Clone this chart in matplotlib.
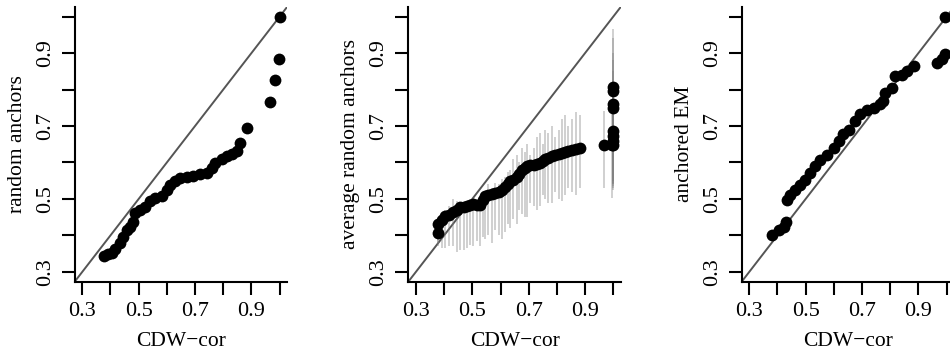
import matplotlib
matplotlib.use("Agg")
import matplotlib.pyplot as plt

plt.rcParams["font.family"] = ["Liberation Serif", "DejaVu Serif"]

# panel 1: random anchors vs CDW-cor
x1 = [0.378, 0.392, 0.404, 0.416, 0.434, 0.445, 0.457, 0.469, 0.481, 0.487,
      0.505, 0.522, 0.540, 0.558, 0.582, 0.599, 0.611, 0.628, 0.646, 0.670,
      0.694, 0.717, 0.741, 0.759, 0.771, 0.794, 0.812, 0.830, 0.848, 0.859,
      0.885, 0.966, 0.984, 0.996, 1.000]
y1 = [0.343, 0.348, 0.351, 0.364, 0.378, 0.396, 0.415, 0.424, 0.438, 0.461,
      0.470, 0.479, 0.493, 0.502, 0.507, 0.525, 0.539, 0.548, 0.557, 0.559,
      0.564, 0.569, 0.571, 0.585, 0.599, 0.610, 0.619, 0.624, 0.631, 0.652,
      0.695, 0.766, 0.826, 0.885, 0.999]

# panel 2: average random anchors (point + min/max range)
x2 = [0.380, 0.380, 0.392, 0.404, 0.416, 0.433, 0.445, 0.457, 0.469, 0.481,
      0.492, 0.504, 0.516, 0.528, 0.537, 0.546, 0.557, 0.570, 0.581, 0.593,
      0.605, 0.617, 0.625, 0.634, 0.646, 0.658, 0.667, 0.676, 0.686, 0.694,
      0.705, 0.717, 0.729, 0.741, 0.750, 0.759, 0.770, 0.782, 0.794, 0.806,
      0.817, 0.829, 0.841, 0.853, 0.868, 0.883, 0.966, 0.995,
      1.0, 1.0, 1.0, 1.0, 1.0, 1.0, 1.0, 1.0]
y2 = [0.407, 0.431, 0.442, 0.452, 0.456, 0.465, 0.470, 0.477, 0.479, 0.481,
      0.484, 0.487, 0.482, 0.483, 0.497, 0.507, 0.511, 0.514, 0.516, 0.520,
      0.525, 0.533, 0.540, 0.548, 0.553, 0.560, 0.569, 0.580, 0.586, 0.591,
      0.593, 0.594, 0.596, 0.599, 0.605, 0.610, 0.613, 0.617, 0.620, 0.623,
      0.626, 0.629, 0.632, 0.635, 0.638, 0.640, 0.649, 0.649,
      0.649, 0.660, 0.672, 0.686, 0.748, 0.760, 0.797, 0.808]
lo2 = [0.370, 0.380, 0.365, 0.365, 0.370, 0.370, 0.355, 0.360, 0.360, 0.365,
       0.375, 0.370, 0.385, 0.370, 0.395, 0.390, 0.400, 0.380, 0.415, 0.400,
       0.390, 0.410, 0.430, 0.420, 0.445, 0.430, 0.470, 0.460, 0.450, 0.450,
       0.490, 0.480, 0.470, 0.480, 0.510, 0.500, 0.490, 0.490, 0.520, 0.500,
       0.495, 0.510, 0.530, 0.520, 0.510, 0.530, 0.530, 0.503,
       0.525, 0.540, 0.550, 0.530, 0.545, 0.550, 0.540, 0.535]
hi2 = [0.420, 0.440, 0.450, 0.470, 0.480, 0.500, 0.495, 0.490, 0.470, 0.480,
       0.500, 0.490, 0.475, 0.490, 0.520, 0.510, 0.540, 0.530, 0.545, 0.540,
       0.555, 0.560, 0.575, 0.580, 0.610, 0.620, 0.600, 0.640, 0.630, 0.650,
       0.620, 0.640, 0.670, 0.680, 0.650, 0.690, 0.680, 0.700, 0.670, 0.690,
       0.720, 0.730, 0.700, 0.720, 0.737, 0.730, 0.741, 0.737,
       0.965, 0.800, 0.720, 0.900, 0.850, 0.780, 0.940, 0.880]

# panel 3: anchored EM
x3 = [0.380, 0.404, 0.422, 0.431, 0.434, 0.445, 0.463, 0.481, 0.499, 0.516,
      0.534, 0.552, 0.575, 0.599, 0.617, 0.634, 0.652, 0.676, 0.694, 0.717,
      0.741, 0.765, 0.776, 0.782, 0.806, 0.818, 0.841, 0.859, 0.883, 0.966,
      0.983, 0.995, 0.995]
y3 = [0.401, 0.415, 0.424, 0.438, 0.496, 0.511, 0.525, 0.539, 0.553, 0.571,
      0.589, 0.608, 0.621, 0.640, 0.658, 0.677, 0.690, 0.713, 0.732, 0.743,
      0.750, 0.759, 0.768, 0.791, 0.805, 0.837, 0.839, 0.851, 0.865, 0.872,
      0.883, 0.897, 1.000]

ylabels = ["random anchors", "average random anchors", "anchored EM"]
ticks = [0.3, 0.4, 0.5, 0.6, 0.7, 0.8, 0.9, 1.0]
ticklabels = ["0.3", "", "0.5", "", "0.7", "", "0.9", ""]

fig = plt.figure(figsize=(9.5, 3.57), dpi=100)
lefts = [0.0786, 0.4298, 0.7807]
axes = [fig.add_axes([l, 0.2109, 0.2238, 0.7703]) for l in lefts]

for ax, lab in zip(axes, ylabels):
    ax.set_xlim(0.273, 1.027)
    ax.set_ylim(0.273, 1.027)
    ax.axline((0.3, 0.3), slope=1, color="#555555", lw=1.4, zorder=1)
    for s in ["top", "right"]:
        ax.spines[s].set_visible(False)
    for s in ["left", "bottom"]:
        ax.spines[s].set_linewidth(1.5)
    ax.set_xticks(ticks)
    ax.set_yticks(ticks)
    ax.set_xticklabels(ticklabels, fontsize=16)
    ax.set_yticklabels(ticklabels, fontsize=16, rotation=90, va="center")
    ax.tick_params(length=9.4, width=1.5, pad=5)
    ax.set_xlabel("CDW\u2212cor", fontsize=15.5, va="center")
    ax.xaxis.set_label_coords(0.5, -0.219)
    ax.set_ylabel(lab, fontsize=15.5, va="center")
    ax.yaxis.set_label_coords(-0.271, 0.5)

axes[0].plot(x1, y1, "o", color="black", ms=8.5, mec="none", zorder=3)

axes[1].vlines(x2, lo2, hi2, color="0.5", alpha=0.4, lw=1.3, zorder=2)
axes[1].plot(x2, y2, "o", color="black", ms=8.5, mec="none", zorder=3)

axes[2].plot(x3, y3, "o", color="black", ms=8.5, mec="none", zorder=3)

fig.savefig("out.png", dpi=100)
